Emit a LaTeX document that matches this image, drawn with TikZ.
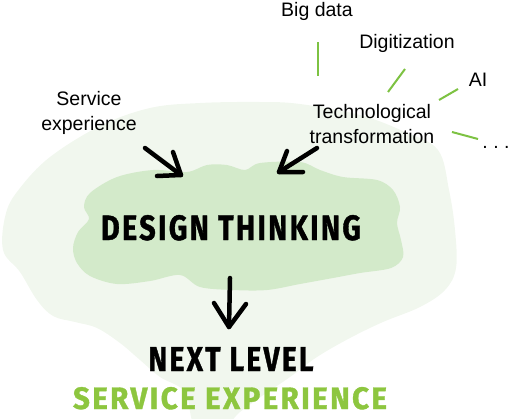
\documentclass[tikz,border=0pt]{standalone}
\usepackage{fontspec}
\usepackage{graphicx}
\setmainfont{Liberation Sans}
\newfontfamily\handfont[LetterSpace=8,FakeBold=1.2]{Fira Sans}
\definecolor{paleback}{HTML}{F1F7EE}
\definecolor{cloudgreen}{HTML}{D3EACA}
\definecolor{linegreen}{HTML}{7DC242}
\definecolor{textgreen}{HTML}{8DC63F}
\tikzset{
  label text/.style={font=\fontsize{19.5}{25}\selectfont, text=black, inner sep=0pt, align=center},
  hand text/.style={inner sep=0pt, anchor=base},
  arrowline/.style={draw=black, line width=4.5pt, line cap=round, line join=round},
  greenline/.style={draw=linegreen, line width=2pt}
}
\begin{document}
\begin{tikzpicture}[x=1pt,y=-1pt]
\useasboundingbox (0,0) rectangle (510,418);
\begin{scope}
\clip (0,0) rectangle (510,418);
% outer pale blob
\fill[paleback] plot[smooth cycle, tension=0.6] coordinates {
 (3,250) (6,213) (20,188) (50,157) (100,126) (150,108) (200,103) (260,102)
 (300,104) (360,115) (405,132) (438,150) (449,190) (455,230) (456,268)
 (445,290) (420,307) (383,322) (350,338) (317,357) (290,377) (262,396)
 (240,412) (225,425) (195,425) (185,392) (160,377) (140,360) (120,343)
 (97,328) (75,322) (53,316) (37,300) (20,272)};
% inner cloud
\fill[cloudgreen] plot[smooth cycle, tension=0.55] coordinates {
 (90,193) (117,177) (153,170) (187,172) (207,165) (227,165) (245,170)
 (260,163) (300,162) (320,170) (343,177) (377,180) (393,190) (400,207)
 (397,223) (401,240) (403,257) (391,268) (360,273) (333,278) (300,284)
 (267,290) (233,290) (200,287) (180,275) (150,281) (117,284) (90,276)
 (77,263) (73,248) (78,232) (89,219) (84,207)};
\end{scope}

% texts
\node[label text, anchor=base] (bigdata) at (317,16) {Big data};
\node[label text, anchor=base] (digit) at (407,48) {Digitization};
\node[label text, anchor=base] (ai) at (478,86) {AI};
\node[label text, anchor=base] (dots) at (496,148) {.~.~.};
\node[label text, anchor=base] (tech) at (372,143) {Technological\\transformation};
\node[label text, anchor=base] (serv) at (89,130) {Service\\experience};

\node[hand text] (dt) at (231,240) {\resizebox{260pt}{25pt}{\handfont\bfseries DESIGN THINKING}};
\node[hand text] (nl) at (231,371) {\resizebox{165pt}{24pt}{\handfont\bfseries NEXT LEVEL}};
\node[hand text, text=textgreen] (sx) at (230,409) {\resizebox{314pt}{22pt}{\handfont\bfseries SERVICE EXPERIENCE}};

% green connectors
\coordinate (g1a) at (318,42);  \coordinate (g1b) at (318,76);
\coordinate (g2a) at (405,69);  \coordinate (g2b) at (388,92);
\coordinate (g3a) at (458,89);  \coordinate (g3b) at (439,100);
\coordinate (g4a) at (452,132); \coordinate (g4b) at (478,139);
\draw[greenline] (g1a) -- (g1b);
\draw[greenline] (g2a) -- (g2b);
\draw[greenline] (g3a) -- (g3b);
\draw[greenline] (g4a) -- (g4b);

% black arrows
\coordinate (a1s) at (145,148); \coordinate (a1t) at (181,175);
\coordinate (a1h1) at (173,152); \coordinate (a1h2) at (157,176);
\draw[arrowline] (a1s) -- (a1t);
\draw[arrowline] (a1h1) -- (a1t) -- (a1h2);

\coordinate (a2s) at (317,148); \coordinate (a2t) at (279,172);
\coordinate (a2h1) at (287,151); \coordinate (a2h2) at (303,172);
\draw[arrowline] (a2s) -- (a2t);
\draw[arrowline] (a2h1) -- (a2t) -- (a2h2);

\coordinate (a3s) at (230,278); \coordinate (a3t) at (229,327);
\coordinate (a3h1) at (214,303); \coordinate (a3h2) at (246,304);
\draw[arrowline] (a3s) -- (a3t);
\draw[arrowline] (a3h1) -- (a3t) -- (a3h2);
\end{tikzpicture}
\end{document}
